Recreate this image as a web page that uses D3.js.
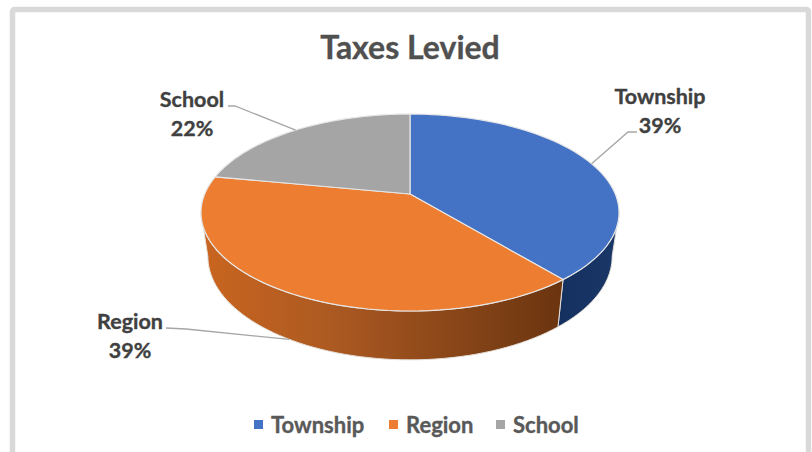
<!DOCTYPE html>
<html>
<head>
<meta charset="utf-8">
<script src="https://cdn.jsdelivr.net/npm/d3@7"></script>
<style>
  html, body { margin: 0; padding: 0; background: #fff; overflow: hidden; }
  svg { display: block; }
  text { font-family: Lato, "Open Sans", sans-serif; font-weight: 700; stroke-width: 0.35px; }
</style>
</head>
<body>
<div id="chart"></div>
<script>
const categories = ["Township", "Region", "School"];
const shares = [39, 39, 22];
const colors = ["#4472C4", "#ED7D31", "#A5A5A5"];

const width = 812, height = 452;

// top face is a circle seen in perspective: apex sits above the ellipse centre
const cx = 410, apexY = 194,
      rimX = 205.3, rimY = 95, persp = 0.188;
// lower edge of the wall
const lowerX = 0.967, lowerY = 1.05, lowerApexY = 237;

const project = (a) => {
    const x = Math.sin(a), y = -Math.cos(a), w = 1 - persp * y;
    return [rimX * x / w, rimY * y / w];
};
const upperEdge = (a) => { const p = project(a); return [cx + p[0], apexY + p[1]]; };
const lowerEdge = (a) => { const p = project(a); return [cx + p[0] * lowerX, lowerApexY + p[1] * lowerY]; };

// angles where the rim turns back, the wall is only visible between them
const wallStart = Math.PI - Math.acos(persp), wallEnd = Math.PI + Math.acos(persp);

const svg = d3.select("#chart").append("svg")
    .attr("width", width)
    .attr("height", height);

// chart frame, runs off the bottom of the picture
svg.append("rect")
    .attr("x", 12.5).attr("y", 9.5)
    .attr("width", 796).attr("height", 500)
    .attr("rx", 2)
    .attr("fill", "#fff")
    .attr("stroke", "#d9d9d9")
    .attr("stroke-width", 5.5);

svg.append("text")
    .attr("x", cx)
    .attr("y", 59)
    .attr("text-anchor", "middle")
    .attr("font-size", 32)
    .attr("fill", "#505050")
    .attr("stroke", "#505050")
    .text("Taxes Levied");

const slices = d3.pie().sort(null)(shares);

const defs = svg.append("defs");
const addGradient = (id, x1, x2, stops) => {
    const g = defs.append("linearGradient")
        .attr("id", id)
        .attr("gradientUnits", "userSpaceOnUse")
        .attr("x1", x1).attr("x2", x2).attr("y1", 0).attr("y2", 0);
    stops.forEach(s => g.append("stop").attr("offset", s[0]).attr("stop-color", s[1]));
};
addGradient("wall-0", 558, 618, [[0, "#14305f"], [1, "#1b3768"]]);
addGradient("wall-1", 203, 560, [[0, "#c9651f"], [0.35, "#ad5a22"], [1, "#6b3510"]]);

const steps = (a0, a1) => d3.range(0, 61).map(i => a0 + (a1 - a0) * i / 60);
const line = d3.line();

// walls
slices.forEach((s, i) => {
    const a0 = Math.max(s.startAngle, wallStart), a1 = Math.min(s.endAngle, wallEnd);
    if (a1 <= a0) return;
    const as = steps(a0, a1);
    const pts = as.map(upperEdge).concat(as.slice().reverse().map(lowerEdge));
    svg.append("path")
        .attr("d", line(pts) + "Z")
        .attr("fill", `url(#wall-${i})`)
        .attr("stroke", "#e4e0da")
        .attr("stroke-width", 1);
});

// top face
slices.forEach((s, i) => {
    const pts = steps(s.startAngle, s.endAngle).map(upperEdge);
    svg.append("path")
        .attr("d", line([[cx, apexY]].concat(pts)) + "Z")
        .attr("fill", colors[i])
        .attr("stroke", "#e6e6e6")
        .attr("stroke-width", 1.2)
        .attr("stroke-linejoin", "round");
});

// data labels, leader lines end on the rim at the middle of the slice
const labelBox = [
    { x: 660, y: 104, elbow: [[637, 132], [628, 132]], edge: upperEdge },
    { x: 130, y: 329, elbow: [[166, 328], [186, 329]], edge: lowerEdge },
    { x: 192, y: 107, elbow: [[228, 106], [235, 106]], edge: upperEdge }
];

slices.forEach((s, i) => {
    const b = labelBox[i];
    const mid = (s.startAngle + s.endAngle) / 2;
    svg.append("path")
        .attr("d", line(b.elbow.concat([b.edge(mid)])))
        .attr("fill", "none")
        .attr("stroke", "#a6a6a6")
        .attr("stroke-width", 1.3);
    const t = svg.append("text")
        .attr("text-anchor", "middle")
        .attr("font-size", 21.5)
        .attr("fill", "#404040")
        .attr("stroke", "#404040");
    t.append("tspan").attr("x", b.x).attr("y", b.y).text(categories[i]);
    t.append("tspan").attr("x", b.x).attr("y", b.y + 29).text(shares[i] + "%");
});

// legend
const legendX = d3.scaleOrdinal().domain(categories).range([254, 389, 496]);
const legend = svg.selectAll(".legend-item")
    .data(categories)
    .enter()
    .append("g")
    .attr("class", "legend-item")
    .attr("transform", d => `translate(${legendX(d)},425)`);
legend.append("rect")
    .attr("y", -5).attr("width", 9).attr("height", 9)
    .attr("fill", (d, i) => colors[i]);
legend.append("text")
    .attr("x", 17).attr("y", 8)
    .attr("font-size", 22)
    .attr("fill", "#595959")
    .attr("stroke", "#595959")
    .text(d => d);
</script>
</body>
</html>
